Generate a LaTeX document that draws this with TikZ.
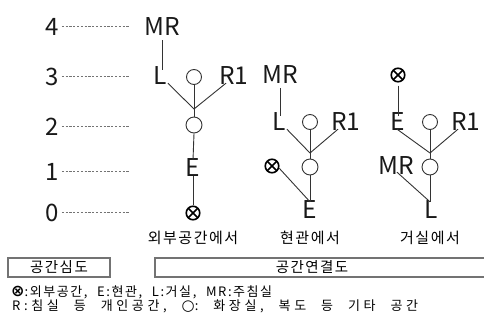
\documentclass[tikz,border=0pt]{standalone}
\usepackage{fontspec}
\setmainfont{Noto Sans CJK KR}
\newfontfamily\symfont{DejaVu Sans}
\newfontfamily\legAfont[LetterSpace=12]{Noto Sans CJK KR}
\newfontfamily\legBfont[LetterSpace=28]{Noto Sans CJK KR}
\newfontfamily\capfont[LetterSpace=10]{Noto Sans CJK KR}
\newcommand\gp{\hspace{2pt plus 1fil}}
\begin{document}
\begin{tikzpicture}[x=1pt,y=-1pt,
  big/.style={font=\fontsize{24.5}{24.5}\selectfont, inner sep=0pt, text=black!90},
  num/.style={font=\fontsize{24}{24}\selectfont, inner sep=0pt, text=black!90},
  caption/.style={font=\capfont\fontsize{15}{15}\selectfont, inner sep=0pt},
  leg/.style={inner sep=0pt, anchor=west},
  room/.style={circle, draw=black!80, line width=0.9pt, minimum size=15pt, inner sep=0pt},
  ext/.style={circle, draw=black, line width=1.6pt, minimum size=13.5pt, inner sep=0pt,
    path picture={\draw[line width=1.6pt] (path picture bounding box.north west)--(path picture bounding box.south east)
      (path picture bounding box.north east)--(path picture bounding box.south west);}},
  conn/.style={draw=black!80, line width=0.9pt},
  guide/.style={draw=black!55, line width=0.8pt, dash pattern=on 2.2pt off 1.6pt},
  box/.style={draw=black!55, line width=1.2pt}]
\useasboundingbox (0,0) rectangle (484,322);

% depth scale
\foreach \n/\y in {4/27,3/77,2/127,1/172,0/213}{
  \node[num] (d\n) at (52,\y) {\n};
  \coordinate (g\n) at (130,\y-1);
  \draw[guide] (d\n.east |- g\n) ++(3,0) -- (g\n);
}

% tree 1 : from outside
\node[big] (mra) at (162,27) {MR};
\node[big] (la) at (160,76) {L};
\node[room] (ca) at (194,77) {};
\node[big] (ra) at (234,76) {R1};
\coordinate (ja) at (194,109);
\node[room, minimum size=16pt] (cb) at (194,125) {};
\node[big] (ea) at (193,168) {E};
\node[ext] (xa) at (193,213) {};
\node[caption] (ta) at (193,238) {외부공간에서};
\draw[conn] (mra.south) ++(0,4) -- ([yshift=-3pt]mra.south |- la.north);
\draw[conn] ([xshift=1pt,yshift=2pt]la.south east) -- (ja);
\draw[conn] (ca.south) -- (ja);
\draw[conn] ([xshift=-8pt,yshift=2pt]ra.south) -- (ja);
\draw[conn] (ja) -- (cb.north);
\draw[conn] (cb.south) -- ([yshift=-1pt]ea.north);
\draw[conn] ([yshift=1pt]ea.south) -- (xa.north);

% tree 2 : from entrance
\node[big] (mrb) at (280,75) {MR};
\node[big] (lb) at (279,122) {L};
\node[room] (cc) at (310,122) {};
\node[big] (rb) at (346,122) {R1};
\coordinate (jb) at (310,153);
\node[room, minimum size=16pt] (cd) at (310,167) {};
\node[ext] (xb) at (272,166) {};
\node[big] (eb) at (310,210) {E};
\node[caption] (tb) at (310,238) {현관에서};
\draw[conn] (mrb.south) ++(0,4) -- ([yshift=-3pt]mrb.south |- lb.north);
\draw[conn] ([xshift=1pt,yshift=2pt]lb.south east) -- (jb);
\draw[conn] (cc.south) -- (jb);
\draw[conn] ([xshift=-8pt,yshift=2pt]rb.south) -- (jb);
\draw[conn] (jb) -- (cd.north);
\draw[conn] (cd.south) -- ([yshift=-1pt]eb.north);
\draw[conn] ([xshift=2pt,yshift=3pt]xb.south east) -- ([yshift=-1pt]eb.north);

% tree 3 : from living room
\node[ext] (xc) at (398,75) {};
\node[big] (ec) at (398,122) {E};
\node[room] (ce) at (430,122) {};
\node[big] (rc) at (466,122) {R1};
\coordinate (jc) at (430,153);
\node[room, minimum size=16pt] (cf) at (430,167) {};
\node[big] (mrc) at (396,166) {MR};
\node[big] (lc) at (431,210) {L};
\node[caption] (tc) at (430,238) {거실에서};
\draw[conn] (xc.south) ++(0,3) -- ([yshift=-3pt]ec.north);
\draw[conn] ([xshift=-1pt,yshift=2pt]ec.south) -- (jc);
\draw[conn] (ce.south) -- (jc);
\draw[conn] ([xshift=-8pt,yshift=2pt]rc.south) -- (jc);
\draw[conn] (jc) -- (cf.north);
\draw[conn] (cf.south) -- ([xshift=-1pt,yshift=-1pt]lc.north);
\draw[conn] ([xshift=1pt,yshift=3pt]mrc.south) -- ([xshift=-1pt,yshift=-1pt]lc.north);

% bottom boxes
\node[box, minimum width=102pt, minimum height=19pt, font=\capfont\fontsize{14.5}{14.5}\selectfont, inner sep=0pt] (bx1) at (59,267.5) {공간심도};
\draw[box] (155,258) rectangle (486,277);
\node[font=\capfont\fontsize{14.5}{14.5}\selectfont, inner sep=0pt] (bx2) at (312,267.5) {공간연결도};

% legend
\node[leg, font=\legAfont\fontsize{13}{13}\selectfont] (lg1) at (11,292)
  {\makebox[261pt][s]{{\symfont\bfseries\fontsize{16}{16}\selectfont ⊗}:외부공간,\gp E:현관,\gp L:거실,\gp MR:주침실}};
\node[leg, font=\legBfont\fontsize{13}{13}\selectfont] (lg2) at (12,306.5)
  {\makebox[406pt][s]{R:침실\gp 등\gp 개인공간,\gp {\symfont\fontsize{15}{15}\selectfont ○}:\gp 화장실,\gp 복도\gp 등\gp 기타\gp 공간}};
\end{tikzpicture}
\end{document}
